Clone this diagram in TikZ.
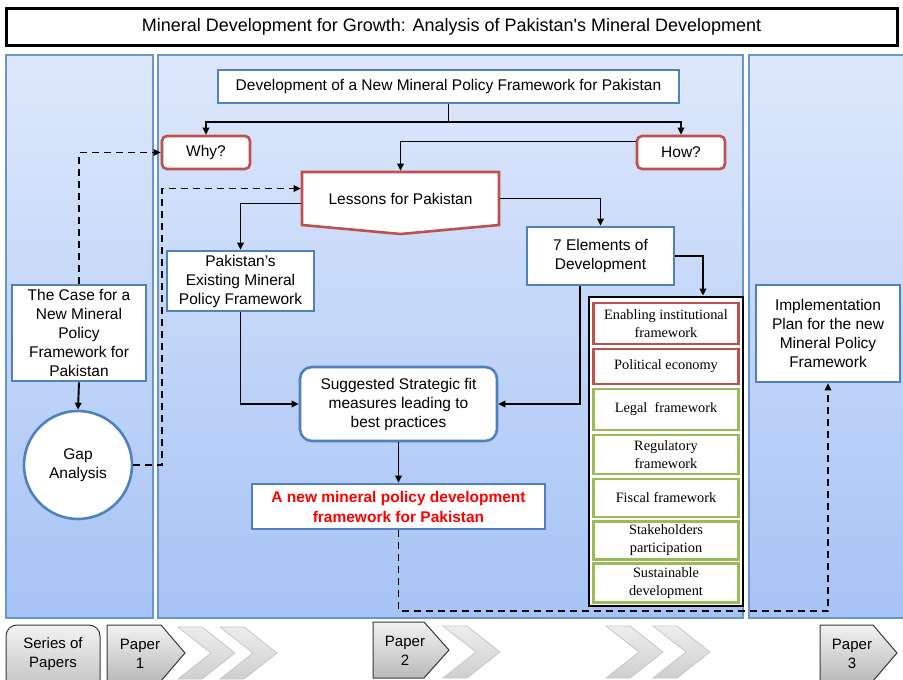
\documentclass[tikz,border=0pt]{standalone}
\usepackage{fontspec}
\setmainfont{Liberation Sans}
\newfontfamily\elemfont{Liberation Serif}
\usetikzlibrary{arrows.meta}

\definecolor{panelTop}{HTML}{DEE8FB}
\definecolor{panelBot}{HTML}{A6C3F5}
\definecolor{panelEdge}{HTML}{6A94CC}
\definecolor{boxBlue}{HTML}{4F81BD}
\definecolor{boxRed}{HTML}{C0504D}
\definecolor{boxGreen}{HTML}{9BBB59}
\definecolor{hiRed}{HTML}{FF0000}

\tikzset{
  panel/.style={draw=panelEdge, line width=1.5pt, top color=panelTop, bottom color=panelBot},
  base/.style={fill=white, align=center, inner sep=0pt, line width=2.6pt,
    font=\fontsize{15.5}{19}\selectfont},
  bluebox/.style={base, draw=boxBlue},
  redbox/.style={base, draw=boxRed, rounded corners=5pt},
  elembox/.style={base, line width=2.3pt, minimum width=145pt,
    font=\elemfont\fontsize{14.3}{18}\selectfont},
  elemred/.style={elembox, draw=boxRed},
  elemgreen/.style={elembox, draw=boxGreen},
  conn/.style={line width=1.9pt, -{Triangle[length=7pt,width=6.5pt]}},
  dconn/.style={conn, dash pattern=on 7pt off 5pt},
  paper/.style={draw=black!78, line width=1pt, top color=black!5, bottom color=black!27},
  chevfill/.style={draw=black!22, line width=0.8pt, top color=black!7, bottom color=black!19},
  chevron/.pic={\path[chevfill] (0,0) -- (24,0) -- (57,26) -- (24,52) -- (0,52) -- (33,26) -- cycle;},
  papertag/.style={font=\fontsize{15}{19}\selectfont, align=center, inner sep=0pt}
}

\begin{document}
\begin{tikzpicture}[x=1pt, y=-1pt]
\useasboundingbox (0,0) rectangle (903,680);
\clip (0,0) rectangle (903,680);

% background columns
\path[panel] (6,55) rectangle (153,618);
\path[panel] (158,55) rectangle (743,618);
\path[panel] (749,55) rectangle (912,618);

% heading
\node[base, draw=black, line width=3pt, minimum width=891pt, minimum height=37pt,
  font=\fontsize{18}{21}\selectfont] (title) at (451.5,26.5)
  {Mineral Development for Growth: Analysis of Pakistan\textquotesingle s Mineral Development};

% central column
\node[bluebox, minimum width=461pt, minimum height=33pt] (dev) at (448.5,86.5)
  {Development of a New Mineral Policy Framework for Pakistan};
\node[redbox, minimum width=88pt, minimum height=33pt] (why) at (206,152.5) {Why?};
\node[redbox, minimum width=88pt, minimum height=33pt] (how) at (681,152.5) {How?};

\path[fill=white, draw=boxRed, line width=2.6pt] (302,172) -- (499,172) -- (499,225)
  -- (400.5,234) -- (302,225) -- cycle;
\node[base, fill=none, minimum width=197pt, minimum height=53pt] (lessons) at (400.5,198.5)
  {Lessons for Pakistan};

\node[bluebox, minimum width=147pt, minimum height=60pt] (exist) at (240.5,281)
  {Pakistan's\\Existing Mineral\\Policy Framework};
\node[bluebox, minimum width=147pt, minimum height=58pt] (elem) at (600.5,256)
  {7 Elements of\\Development};
\node[bluebox, rounded corners=12pt, minimum width=197pt, minimum height=74pt] (sugg) at (398.5,404)
  {Suggested Strategic fit\\measures leading to\\best practices};
\node[bluebox, minimum width=293pt, minimum height=45pt,
  font=\bfseries\fontsize{15.5}{20}\selectfont, text=hiRed] (newfw) at (398.5,506.5)
  {A new mineral policy development\\framework for Pakistan};

% the seven elements
\node[draw=black, line width=2.8pt, fill=white, minimum width=154pt, minimum height=309pt, inner sep=0pt]
  (blk) at (666,451.5) {};
\node[elemred, minimum height=41pt] (e1) at (666,323.5) {Enabling institutional\\framework};
\node[elemred, minimum height=35pt] (e2) at (666,366.5) {Political economy};
\node[elemgreen, minimum height=41pt] (e3) at (666,409.5) {Legal\ \ framework};
\node[elemgreen, minimum height=39pt] (e4) at (666,454.5) {Regulatory\\framework};
\node[elemgreen, minimum height=38pt] (e5) at (666,498) {Fiscal framework};
\node[elemgreen, minimum height=38pt] (e6) at (666,540.5) {Stakeholders\\participation};
\node[elemgreen, minimum height=39pt] (e7) at (666,583) {Sustainable\\development};

% side columns
\node[bluebox, minimum width=134pt, minimum height=96pt] (case) at (79,333)
  {The Case for a\\New Mineral\\Policy\\Framework for\\Pakistan};
\node[base, draw=boxBlue, circle, minimum size=108pt] (gap) at (78,465) {Gap\\Analysis};
\node[bluebox, minimum width=144pt, minimum height=97pt] (impl) at (828,333.5)
  {Implementation\\Plan for the new\\Mineral Policy\\Framework};

% connectors
\draw[line width=1.9pt] (dev.south) -- ++(0,18) coordinate (split);
\draw[conn] (split) -| (why.north);
\draw[conn] (split) -| (how.north);
\draw[conn] ([yshift=11pt]how.west) -| (lessons.north);
\draw[conn] (lessons.east) -| (elem.north);
\draw[conn] ([yshift=-5pt]lessons.west) -| (exist.north);
\draw[conn] (exist.south) |- (sugg.west);
\draw[conn] ([xshift=-20.5pt]elem.south) |- (sugg.east);
\draw[conn] (elem.east) -| ([xshift=37pt]blk.north);
\draw[conn] (sugg.south) -- (newfw.north);
\draw[conn] (case.south) -- (gap.north);
\draw[dconn] (case.north) |- (why.west);
\draw[dconn] (gap.east) -- ++(29,0) |- ([yshift=10pt]lessons.west);
\draw[dconn] (newfw.south) -- ++(0,81) -| (impl.south);

% series of papers strip
\pic at (178,627) {chevron};
\pic at (220,627) {chevron};
\pic at (443,626) {chevron};
\pic at (606,626) {chevron};
\pic at (653,626) {chevron};

\path[paper, rounded corners=11pt] (6,625) rectangle (100,700);
\node[papertag] (series) at (53,654.5) {Series of\\Papers};

\path[paper] (107,625) -- (161,625) -- (185,653) -- (161,681) -- (107,681) -- cycle;
\node[papertag] (p1) at (140,654) {Paper\\1};

\path[paper] (373,622) -- (424,622) -- (449,650) -- (424,678) -- (373,678) -- cycle;
\node[papertag] (p2) at (405,650.5) {Paper\\2};

\path[paper] (820,625) -- (873,625) -- (897,653) -- (873,681) -- (820,681) -- cycle;
\node[papertag] (p3) at (852,654) {Paper\\3};
\end{tikzpicture}
\end{document}
